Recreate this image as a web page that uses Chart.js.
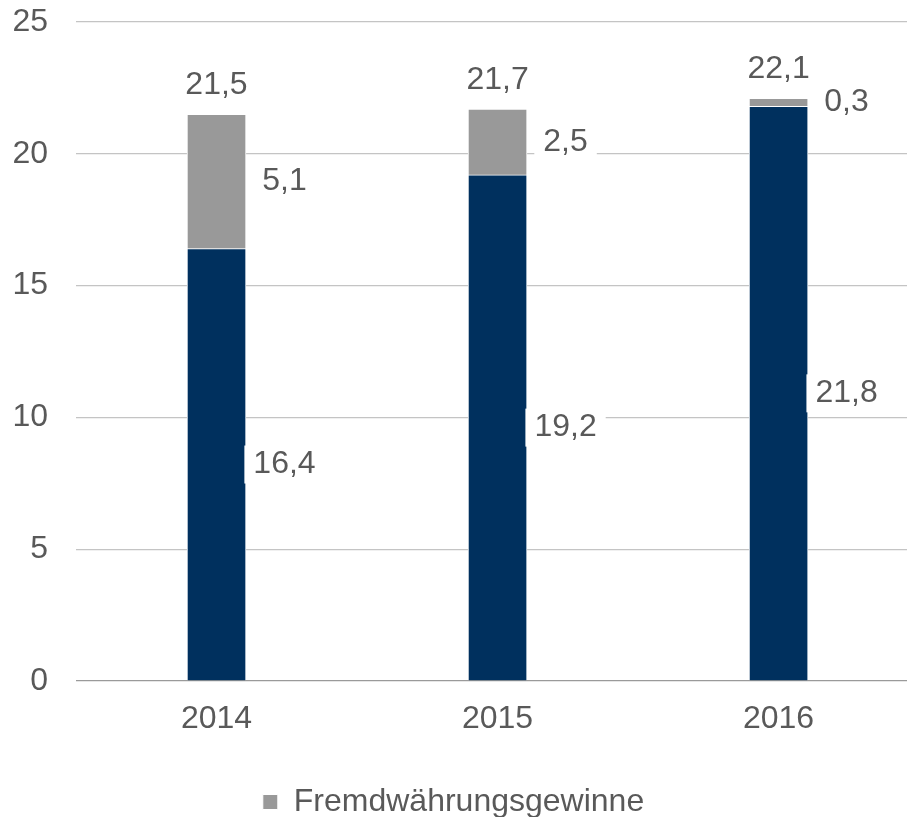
<!DOCTYPE html>
<html>
<head>
<meta charset="utf-8">
<script src="https://cdn.jsdelivr.net/npm/chart.js@4.4.1/dist/chart.umd.min.js"></script>
<style>
  html, body { margin: 0; padding: 0; background: #fff; }
  #chart { display: block; }
</style>
</head>
<body>
<canvas id="chart" width="907" height="817"></canvas>
<script>
// Gestapelte Säulen 2014-2016: Basiswert + Fremdwährungsgewinne, Summe oben drüber

const years = ['2014', '2015', '2016'];
const baseValues = [16.4, 19.2, 21.8];
const fxGains = [5.1, 2.5, 0.3];
const totals = [21.5, 21.7, 22.1];
const yTicks = [0, 5, 10, 15, 20, 25];

const FONT = '"Liberation Sans", Arial, sans-serif';
const TEXT = '#595959';

const fmt = v => v.toFixed(1).replace('.', ',');

// Datenbeschriftungen rechts neben den Segmenten (mit weißem Hintergrund) + Summe über der Säule
const labelPlugin = {
    id: 'barLabels',
    afterDatasetsDraw(chart) {
        const ctx = chart.ctx;
        const yScale = chart.scales.y;
        ctx.save();
        ctx.font = '32px ' + FONT;
        ctx.textAlign = 'center';
        ctx.textBaseline = 'middle';
        chart.data.datasets.forEach((ds, di) => {
            chart.getDatasetMeta(di).data.forEach((bar, i) => {
                const cy = (bar.y + bar.base) / 2;
                const cx = bar.x + 68;
                const txt = fmt(ds.data[i]);
                const w = ctx.measureText(txt).width + 18;
                ctx.fillStyle = '#fff';
                ctx.fillRect(cx - w / 2, cy - 19, w, 38);
                ctx.fillStyle = TEXT;
                ctx.fillText(txt, cx, cy);
            });
        });
        chart.getDatasetMeta(0).data.forEach((bar, i) => {
            ctx.fillStyle = TEXT;
            ctx.fillText(fmt(totals[i]), bar.x, yScale.getPixelForValue(totals[i]) - 29);
        });
        ctx.restore();
    }
};

const chart = new Chart(document.getElementById('chart').getContext('2d'), {
    type: 'bar',
    data: {
        labels: years,
        datasets: [
            { label: 'Basis', data: baseValues, backgroundColor: '#00305e', borderColor: '#ffffff', borderWidth: 1, barThickness: 59 },
            { label: 'Fremdwährungsgewinne', data: fxGains, backgroundColor: '#999999', borderColor: '#ffffff', borderWidth: 1, barThickness: 59 }
        ]
    },
    options: {
        responsive: false,
        animation: false,
        devicePixelRatio: 1,
        layout: { padding: { top: 22, right: 0, bottom: -11, left: 0 } },
        plugins: {
            tooltip: { enabled: false },
            legend: {
                position: 'bottom',
                labels: {
                    filter: item => item.datasetIndex === 1,
                    boxWidth: 15,
                    boxHeight: 15,
                    padding: 0,
                    color: TEXT,
                    font: { family: FONT, size: 32 }
                }
            }
        },
        scales: {
            x: {
                type: 'linear',
                stacked: true,
                offset: false,
                min: 2013.5,
                max: 2016.457,
                afterBuildTicks: s => { s.ticks = years.map(v => ({ value: +v })); },
                afterFit: s => { s.height = 105; },
                grid: { display: false, offset: false },
                border: { display: false },
                ticks: {
                    autoSkip: false,
                    maxRotation: 0,
                    padding: 11,
                    color: TEXT,
                    font: { family: FONT, size: 32 },
                    callback: v => String(v)
                }
            },
            y: {
                stacked: true,
                min: 0,
                max: 25,
                afterBuildTicks: s => { s.ticks = yTicks.map(v => ({ value: v })); },
                afterFit: s => { s.width = 76; s.paddingTop = 0; s.paddingBottom = 0; },
                border: { display: false },
                grid: {
                    drawTicks: false,
                    lineWidth: 1.3,
                    color: c => c.tick && c.tick.value === 0 ? '#9a9a9a' : '#c4c4c4'
                },
                ticks: {
                    padding: 28,
                    color: TEXT,
                    font: { family: FONT, size: 32 }
                }
            }
        }
    },
    plugins: [labelPlugin]
});
</script>
</body>
</html>
